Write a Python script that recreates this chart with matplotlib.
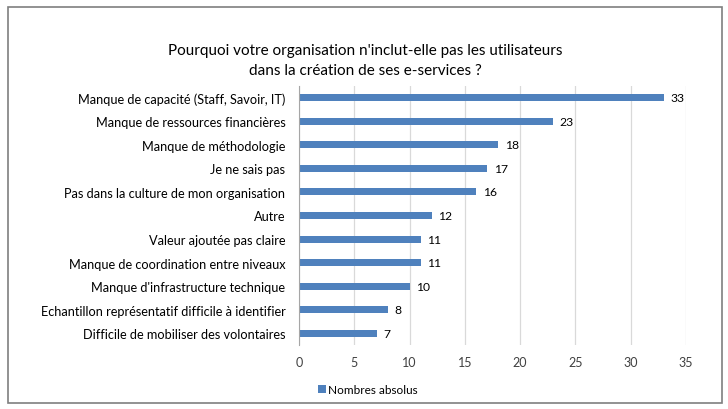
import matplotlib
matplotlib.use("Agg")
import matplotlib.pyplot as plt
from matplotlib.patches import Rectangle

# Données
categories = [
    "Manque de capacité (Staff, Savoir, IT)",
    "Manque de ressources financières",
    "Manque de méthodologie",
    "Je ne sais pas",
    "Pas dans la culture de mon organisation",
    "Autre",
    "Valeur ajoutée pas claire",
    "Manque de coordination entre niveaux",
    "Manque d'infrastructure technique",
    "Echantillon représentatif difficile à identifier",
    "Difficile de mobiliser des volontaires",
]
valeurs = [33, 23, 18, 17, 16, 12, 11, 11, 10, 8, 7]
xticks = [0, 5, 10, 15, 20, 25, 30, 35]

plt.rcParams['font.family'] = ['Lato', 'DejaVu Sans']

fig = plt.figure(figsize=(7.28, 4.10), dpi=100)
ax = fig.add_axes([0.411, 0.156, 0.531, 0.632])

# Cadre autour du graphique
fig.patches.append(Rectangle((8 / 728, 6 / 410), 714 / 728, 396 / 410,
                             transform=fig.transFigure, fill=False,
                             edgecolor='#7f7f7f', linewidth=1.2))

pos = list(range(len(categories)))
bars = ax.barh(pos, valeurs, height=0.3, color='#4f81bd', zorder=3,
               label='Nombres absolus')
ax.set_ylim(len(categories) - 0.5, -0.5)
ax.set_xlim(0, 35)
ax.set_xticks(xticks)
ax.set_yticks(pos)
ax.set_yticklabels(categories, fontsize=9.2)
ax.tick_params(axis='x', labelsize=9, length=0, pad=8, colors='#404040')
ax.tick_params(axis='y', length=0, pad=10)

for b, v in zip(bars, valeurs):
    ax.text(b.get_width() + 0.6, b.get_y() + b.get_height() / 2, str(v),
            va='center', ha='left', fontsize=8.7)

ax.grid(axis='x', color='#d9d9d9', linewidth=0.9, zorder=0)
for s in ['top', 'right', 'bottom']:
    ax.spines[s].set_visible(False)
ax.spines['left'].set_color('#a6a6a6')
ax.spines['left'].set_zorder(4)

fig.text(0.502, 0.851, "Pourquoi votre organisation n'inclut-elle pas les utilisateurs\ndans la création de ses e-services ?",
         ha='center', va='center', fontsize=11, linespacing=1.55)

fig.legend(loc='center', bbox_to_anchor=(0.505, 0.048), frameon=False,
           fontsize=8.5, handlelength=0.7, handleheight=0.7, handletextpad=0.2)

fig.savefig("out.png", dpi=100)
